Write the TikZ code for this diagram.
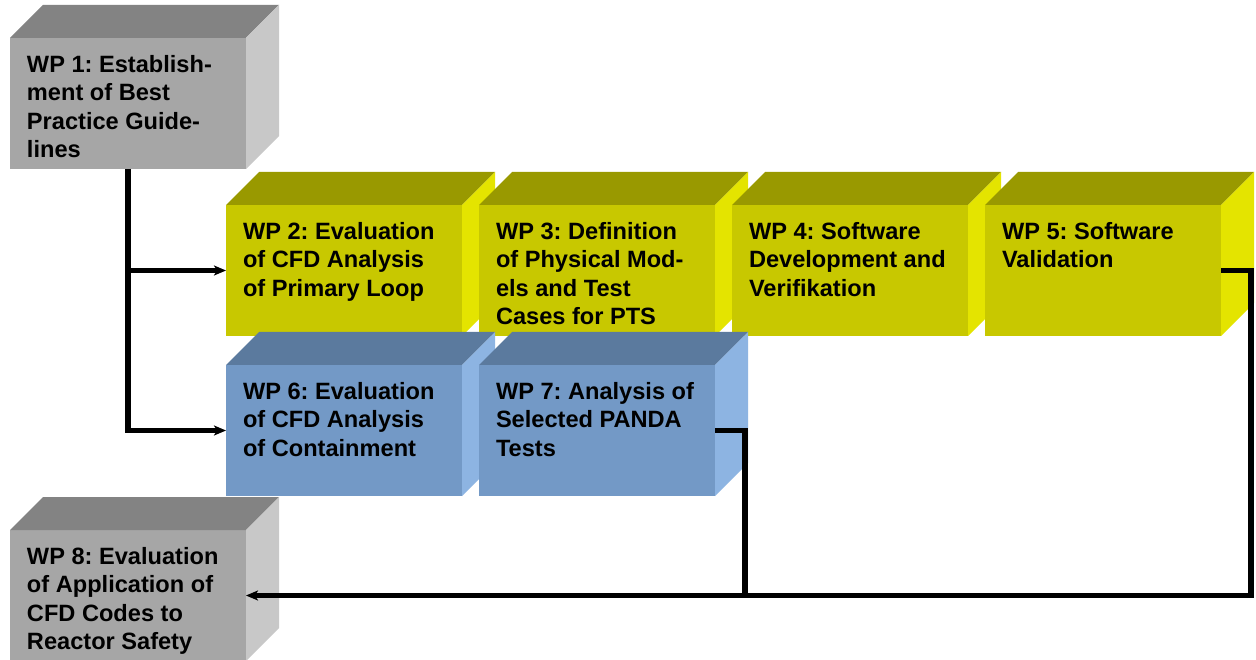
\documentclass[tikz,border=0pt]{standalone}
\usepackage{fontspec}
\setmainfont{Liberation Sans}
\usetikzlibrary{arrows.meta}

% face colours of the three box families
\definecolor{grayFront}{RGB}{166,166,166}
\definecolor{grayTop}{RGB}{131,131,131}
\definecolor{graySide}{RGB}{200,200,200}
\definecolor{yelFront}{RGB}{200,200,0}
\definecolor{yelTop}{RGB}{153,153,0}
\definecolor{yelSide}{RGB}{228,228,0}
\definecolor{bluFront}{RGB}{115,153,198}
\definecolor{bluTop}{RGB}{91,122,158}
\definecolor{bluSide}{RGB}{141,180,226}

\newcommand\wpfont{\fontsize{23.6pt}{28.5pt}\selectfont\bfseries\frenchspacing}

\tikzset{
  frontface/.style={rectangle, minimum width=236pt, minimum height=131pt,
    inner sep=0pt, outer sep=0pt, anchor=north west, draw=none},
  wplabel/.style={anchor=north west, inner sep=0pt, outer sep=0pt,
    align=left, font=\wpfont, text=black},
  link/.style={line width=5.6pt, draw=black},
  tip/.style={-{Stealth[length=12pt,width=10pt,inset=3pt]}},
}

% #1 name, #2 front top-left corner, #3/#4/#5 front/top/side colour, #6 text
\newcommand\wpbox[6]{%
  \node[frontface, fill=#3] (#1) at (#2) {};
  \fill[#4] (#1.north west) -- ++(33,-33)
     -- ([shift={(33,-33)}]#1.north east) -- (#1.north east) -- cycle;
  \fill[#5] (#1.north east) -- ++(33,-33)
     -- ([shift={(33,-33)}]#1.south east) -- (#1.south east) -- cycle;
  \node[wplabel] (#1-text) at ([shift={(17,17)}]#1.north west) {#6};
}

\begin{document}
\begin{tikzpicture}[x=1pt, y=-1pt]
  \clip (0,0) rectangle (1256,660);
  \fill[white] (0,0) rectangle (1256,660);

  % grey boxes
  \wpbox{wp1}{10,38}{grayFront}{grayTop}{graySide}%
    {WP 1: Establish-\\ment of Best\\Practice Guide-\\lines}

  % yellow row
  \wpbox{wp2}{226,205}{yelFront}{yelTop}{yelSide}%
    {WP 2: Evaluation\\of CFD Analysis\\of Primary Loop}
  \wpbox{wp3}{479,205}{yelFront}{yelTop}{yelSide}%
    {WP 3: Definition\\of Physical Mod-\\els and Test\\Cases for PTS}
  \wpbox{wp4}{732,205}{yelFront}{yelTop}{yelSide}%
    {WP 4: Software\\Development and\\Verifikation}
  \wpbox{wp5}{985,205}{yelFront}{yelTop}{yelSide}%
    {WP 5: Software\\Validation}

  % blue row
  \wpbox{wp6}{226,365}{bluFront}{bluTop}{bluSide}%
    {WP 6: Evaluation\\of CFD Analysis\\of Containment}
  \wpbox{wp7}{479,365}{bluFront}{bluTop}{bluSide}%
    {WP 7: Analysis of\\Selected PANDA\\Tests}

  \wpbox{wp8}{10,530}{grayFront}{grayTop}{graySide}%
    {WP 8: Evaluation\\of Application of\\CFD Codes to\\Reactor Safety}

  % connectors
  \coordinate (r5) at (1251,0);
  \coordinate (r7) at (745,0);
  \draw[link, tip] (wp1.south) |- (wp6.west);
  \draw[link, tip] (wp1.south |- wp2.west) -- (wp2.west);
  \draw[link] (wp7.east) -| (r7 |- wp8.east);
  \draw[link, tip] (wp5.east) -| (r5 |- wp8.east) -- (wp8.east);
\end{tikzpicture}
\end{document}
